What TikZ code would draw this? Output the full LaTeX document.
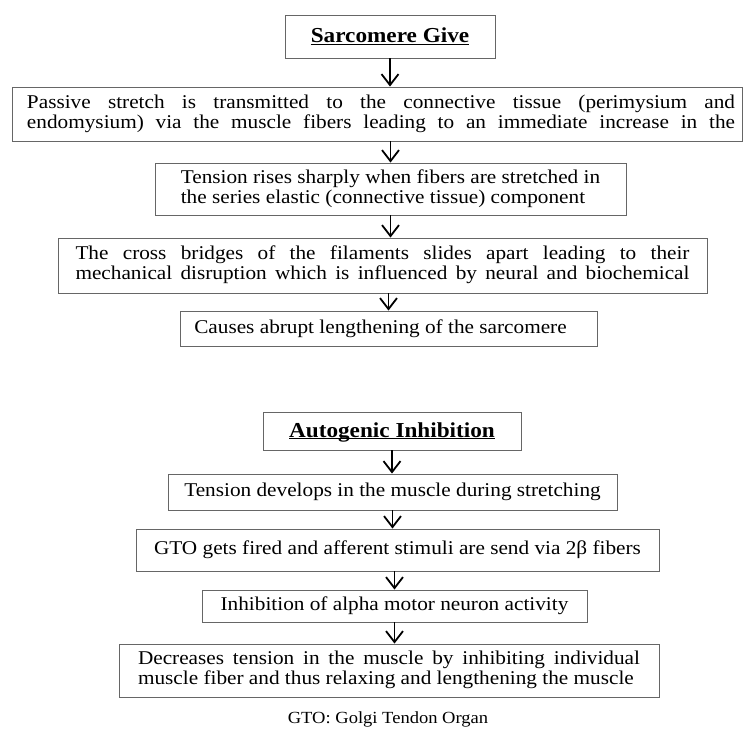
\documentclass[tikz,border=0pt]{standalone}
\usepackage{fontspec}
\setmainfont{Liberation Serif}[FakeStretch=1.09]
\newcommand{\bodyfont}{\fontsize{19.5}{20}\selectfont}
\newcommand{\headfont}{\fontsize{21.3}{24}\selectfont\bfseries}
\newcommand{\spread}[2]{{\spaceskip=.25em plus 1fil\xspaceskip=\spaceskip\makebox[#1][s]{#2}}}
\newcommand{\headline}[1]{\underline{\smash{#1}\vphantom{A}}}
\newenvironment{lines}{\begin{tabular}{@{}l@{}}}{\end{tabular}}
\tikzset{box/.style = {draw=black!60, line width=0.9pt, inner ysep=0pt, font=\bodyfont}}
\tikzset{flow/.style = {-{Straight Barb[length=11pt,width=17pt]}, line width=1.8pt}}
\usetikzlibrary{arrows.meta}

\begin{document}
\begin{tikzpicture}[x=1pt, y=-1pt]
\useasboundingbox (0,0) rectangle (744,728);
\node[box, minimum width=210pt, minimum height=43pt] (sarco) at (390,36.5) {\headfont\headline{Sarcomere Give}};
\node[box, minimum width=730pt, minimum height=54pt] (passive) at (377,114)
  {\begin{lines}\hspace*{8pt}\spread{708pt}{Passive stretch is transmitted to the connective tissue (perimysium and}\\
   \hspace*{8pt}\spread{708pt}{endomysium) via the muscle fibers leading to an immediate increase in the}\end{lines}};
\node[box, minimum width=471pt, minimum height=52pt] (rises) at (390.5,189)
  {\begin{lines}Tension rises sharply when fibers are stretched in\\the series elastic (connective tissue) component\end{lines}};
\node[box, minimum width=649pt, minimum height=55pt] (bridges) at (382.5,265.5)
  {\begin{lines}\spread{614pt}{The cross bridges of the filaments slides apart leading to their}\\
   \spread{614pt}{mechanical disruption which is influenced by neural and biochemical}\end{lines}};
\node[box, minimum width=417pt, minimum height=35pt] (abrupt) at (388.5,328.5) {\hspace*{-16pt}Causes abrupt lengthening of the sarcomere};

\node[box, minimum width=258pt, minimum height=38pt] (autog) at (392,431) {\headfont\headline{Autogenic Inhibition}};
\node[box, minimum width=449pt, minimum height=36pt] (develops) at (392.5,492) {Tension develops in the muscle during stretching};
\node[box, minimum width=523pt, minimum height=42pt] (gto) at (397.5,550) {GTO gets fired and afferent stimuli are send via 2β fibers};
\node[box, minimum width=385pt, minimum height=32pt] (alpha) at (394.5,606) {Inhibition of alpha motor neuron activity};
\node[box, minimum width=540pt, minimum height=53pt] (relax) at (389,670.5)
  {\begin{lines}\spread{502pt}{Decreases tension in the muscle by inhibiting individual}\\
   muscle fiber and thus relaxing and lengthening the muscle\end{lines}};
\node[font=\fontsize{17}{20}\selectfont] (legend) at (388,719) {GTO: Golgi Tendon Organ};

\draw[flow] (sarco.south) -- (sarco.south |- passive.north);
\draw[flow] (rises.north |- passive.south) -- (rises.north);
\draw[flow] (rises.south) -- (rises.south |- bridges.north);
\draw[flow] (abrupt.north |- bridges.south) -- (abrupt.north);
\draw[flow] (autog.south) -- (autog.south |- develops.north);
\draw[flow] (develops.south) -- (develops.south |- gto.north);
\draw[flow] (alpha.north |- gto.south) -- (alpha.north);
\draw[flow] (alpha.south) -- (alpha.south |- relax.north);
\end{tikzpicture}
\end{document}
